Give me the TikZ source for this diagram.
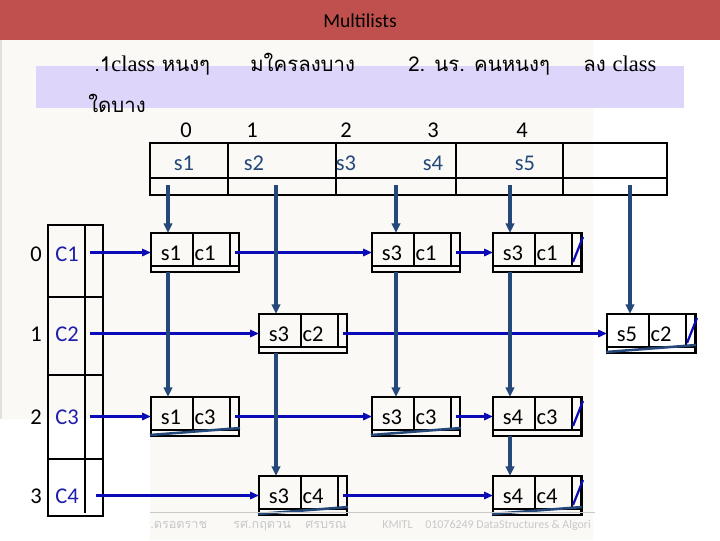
\documentclass[tikz,border=0pt]{standalone}
\usepackage{fontspec}
\setmainfont{Carlito}
\newfontfamily\thaifont[Script=Thai]{Loma}
\newfontfamily\seriffont{Liberation Serif}
\usepackage{tikz}
\usetikzlibrary{arrows.meta,calc}
\definecolor{titlered}{RGB}{192,80,77}
\definecolor{bandlilac}{RGB}{222,214,250}
\definecolor{paperbg}{RGB}{250,249,246}
\definecolor{linkblue}{RGB}{10,10,185}
\definecolor{downnavy}{RGB}{36,72,122}
\definecolor{labelblue}{RGB}{30,30,170}
\definecolor{footgrey}{RGB}{200,200,200}
\tikzset{
  base/.style={font=\fontsize{16}{18}\selectfont, inner sep=0pt, anchor=base},
  frame/.style={draw=black, line width=2.1pt},
  lnode/.style={frame, rectangle, minimum width=2.2cm, minimum height=0.975cm, outer sep=0pt, inner sep=0pt},
  harr/.style={-{Triangle[length=2.2mm,width=1.8mm]}, line width=1.9pt, draw=linkblue},
  varr/.style={-{Triangle[length=2.4mm,width=2.1mm]}, line width=2.6pt, draw=downnavy},
  nilr/.style={draw=linkblue, line width=1.6pt},
  nild/.style={draw=downnavy, line width=1.8pt},
  thai/.style={font=\thaifont\fontsize{14.5}{17}\selectfont, anchor=base west, inner sep=0pt},
  foot/.style={font=\fontsize{8.5}{10}\selectfont, text=footgrey, anchor=base west, inner sep=0pt},
}

\begin{document}
\begin{tikzpicture}[x=0.025cm,y=-0.025cm]
  \useasboundingbox (0,0) rectangle (720,540);
  % slide background
  \fill[white] (0,0) rectangle (720,540);
  \fill[paperbg] (0,40) rectangle (593,419) (150,419) rectangle (593,540);
  \fill[black!12] (0,40) rectangle (2,419);
  \fill[titlered] (0,0) rectangle (720,40);
  \fill[bandlilac] (36,66) rectangle (684,108);
  \node[font=\fontsize{14}{16}\selectfont] (title) at (360,21) {Multilists};
  % question text
  \node[thai] (q1) at (94,71) {.1{\seriffont\fontsize{16}{18}\selectfont class} หนงๆ};
  \node[thai] (q2) at (250,71) {มใครลงบาง};
  \node[thai] (q3) at (408,71) {2. นร. คนหนงๆ};
  \node[thai] (q4) at (583,71) {ลง {\seriffont\fontsize{16}{18}\selectfont class}};
  \node[thai] (q5) at (88,112) {ใดบาง};
  % student array
  \draw[frame] (150,143) rectangle (667,195) (150,178) -- (667,178);
  \foreach \xx in {228,336,456,563}{\draw[frame] (\xx,143) -- (\xx,195);}
  \foreach \i/\xi/\xs in {0/186/184,1/252/254,2/346/346,3/433/433,4/522/525}{
    \pgfmathtruncatemacro{\k}{\i+1}
    \node[base] (i\i) at (\xi,137) {\i};
    \node[base,text=downnavy] (h\k) at (\xs,170) {s\k};
  }
  \coordinate (p0) at (168,185);
  \coordinate (p1) at (276,185);
  \coordinate (p2) at (396,185);
  \coordinate (p3) at (510,185);
  \coordinate (p4) at (630,185);
  % class array
  \draw[frame] (48,225) rectangle (103,516);
  \foreach \yy in {297,375,459}{\draw[frame] (48,\yy) -- (103,\yy);}
  \draw[frame] (85,225) -- (85,513);
  \foreach \i/\yb in {0/261,1/341,2/424,3/503}{
    \pgfmathtruncatemacro{\k}{\i+1}
    \node[base] (k\i) at (36,\yb) {\i};
    \node[base,text=labelblue] (cl\k) at (67,\yb) {C\k};
  }
  \coordinate (r1) at (90,252.5);
  \coordinate (r2) at (90,333.5);
  \coordinate (r3) at (90,416.5);
  \coordinate (r4) at (96,495.5);
  % list nodes
  \foreach \nm/\x/\y/\s/\c in {s1c1/151/233/s1/c1, s3c1/372/233/s3/c1, s3c1b/493/233/s3/c1,
      s3c2/259/314/s3/c2, s5c2/607/314/s5/c2, s1c3/151/397/s1/c3, s3c3/372/397/s3/c3,
      s4c3/493/397/s4/c3, s3c4/259/476/s3/c4, s4c4/493/476/s4/c4}{
    \node[lnode] (\nm) at (\x+44,\y+19.5) {};
    \node[base] (\nm-s) at (\x+20,\y+27) {\s};
    \node[base] (\nm-c) at (\x+54,\y+27) {\c};
    \draw[frame] (\x,\y+33) -- (\x+88,\y+33) (\x+42,\y) -- (\x+42,\y+33) (\x+79,\y) -- (\x+79,\y+33);
  }
  % row links
  \foreach \r/\n in {r1/s1c1, r2/s3c2, r3/s1c3, r4/s3c4}{\draw[harr] (\r) -- (\n);}
  \foreach \a/\b in {s1c1/s3c1, s3c1/s3c1b, s3c2/s5c2, s1c3/s3c3, s3c3/s4c3, s3c4/s4c4}{
    \draw[harr] ([xshift=-0.1cm]\a.east) -- (\b);
  }
  % column links
  \foreach \p/\n in {p0/s1c1, p1/s3c2, p2/s3c1, p3/s3c1b, p4/s5c2}{\draw[varr] (\p) -- (\p |- \n.north);}
  \foreach \p/\a/\b in {p0/s1c1/s1c3, p1/s3c2/s3c4, p2/s3c1/s3c3, p3/s3c1b/s4c3, p3/s4c3/s4c4}{
    \draw[varr] (\p |- \a.south) -- (\p |- \b.north);
  }
  % null links
  \foreach \n in {s3c1b, s5c2, s4c3, s4c4}{
    \draw[nilr] ([shift={(-8,29)}]\n.north east) -- ([shift={(2,4)}]\n.north east);
  }
  \foreach \n in {s5c2, s1c3, s3c3, s3c4, s4c4}{
    \draw[nild] ([shift={(-1,-1)}]\n.south west) -- ([shift={(1,-8)}]\n.south east);
  }
  % footer
  \draw[footgrey, line width=0.6pt] (150,512) -- (595,512);
  \node[foot,font=\thaifont\fontsize{9}{10}\selectfont] (f1) at (150,528) {.ดรอตราช};
  \node[foot,font=\thaifont\fontsize{9}{10}\selectfont] (f2) at (233,528) {รศ.กฤตวน};
  \node[foot,font=\thaifont\fontsize{9}{10}\selectfont] (f3) at (305,528) {ศรบรณ};
  \node[foot] (f4) at (382,528) {KMITL};
  \node[foot] (f5) at (425,528) {01076249 DataStructures \& Algori};
\end{tikzpicture}
\end{document}
